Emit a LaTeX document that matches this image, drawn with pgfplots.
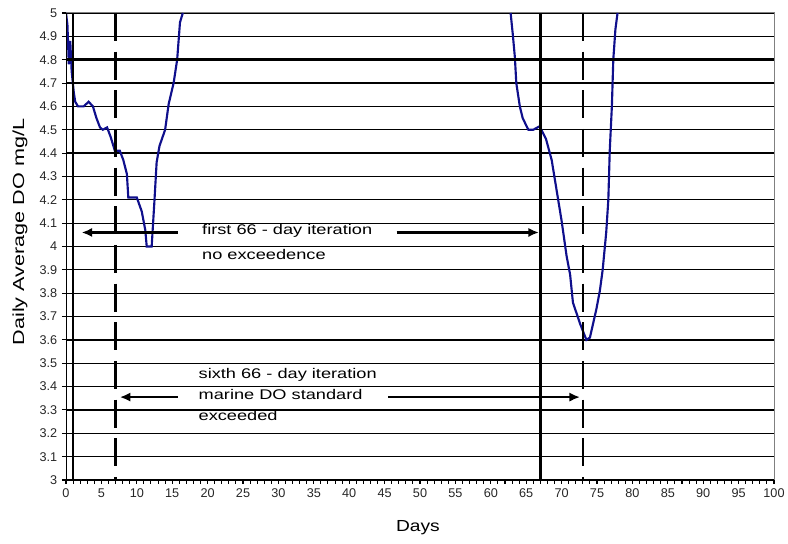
\documentclass[border=0pt]{standalone}
\usepackage{pgfplots}
\pgfplotsset{compat=1.18}
\usepackage{fontspec}
\setmainfont{Liberation Sans}
\newfontfamily\notefont[FakeStretch=1.3]{Liberation Sans}
\newfontfamily\ylabfont[FakeStretch=1.35]{Liberation Sans}
\newfontfamily\xlabfont[FakeStretch=1.2]{Liberation Sans}
\usetikzlibrary{arrows.meta,calc}
\definecolor{doblue}{RGB}{15,15,140}
\begin{document}
\begin{tikzpicture}
\begin{axis}[
  name=ax,
  scale only axis,
  width=531pt, height=350.25pt,
  xmin=0, xmax=100, ymin=3, ymax=5,
  xtick={0,5,...,100},
  minor x tick num=4,
  ytick={3,3.1,3.2,3.3,3.4,3.5,3.6,3.7,3.8,3.9,4,4.1,4.2,4.3,4.4,4.5,4.6,4.7,4.8,4.9,5},
  yticklabels={3,3.1,3.2,3.3,3.4,3.5,3.6,3.7,3.8,3.9,4,4.1,4.2,4.3,4.4,4.5,4.6,4.7,4.8,4.9,5},
  xtick pos=bottom, ytick pos=left,
  tick align=outside,
  major tick length=3pt, minor tick length=3pt,
  tick style={black, line width=0.8pt},
  ymajorgrids=true,
  grid style={black, line width=0.95pt},
  axis line style={draw=gray, line width=0.75pt},
  /pgf/number format/assume math mode=true,
  ticklabel style={font=\fontsize{9.5}{11}\selectfont, text=black!85},
  xlabel={Days},
  ylabel={Daily Average DO mg/L},
  xlabel style={font=\xlabfont\fontsize{12}{14}\selectfont, at={(axis description cs:0.497,-0.103)}, anchor=center},
  ylabel style={font=\ylabfont\fontsize{12}{14}\selectfont, at={(axis description cs:-0.065,0.531)}, anchor=center},
]
% DO curve, first dip
\addplot[doblue, line width=1.6pt] coordinates {
(0,5)(0.2,4.95)(0.4,4.78)(0.6,4.88)(0.8,4.75)(1.1,4.66)(1.3,4.62)(1.7,4.6)
(2.5,4.6)(3.2,4.62)(3.8,4.6)(4.3,4.55)(4.8,4.51)(5.2,4.5)(5.8,4.51)(6.3,4.47)
(6.9,4.41)(7.6,4.41)(8.1,4.37)(8.6,4.31)(8.8,4.21)(10,4.21)(10.7,4.15)(11.2,4.07)
(11.4,4.0)(12.1,4.0)(12.5,4.2)(12.8,4.36)(13.2,4.43)(14.0,4.5)(14.5,4.61)
(15.2,4.7)(15.7,4.8)(16.1,4.96)(16.5,5.0)
};
% DO curve, second dip
\addplot[doblue, line width=1.6pt] coordinates {
(62.8,5.0)(63.1,4.91)(63.4,4.81)(63.6,4.70)(64.1,4.6)(64.5,4.55)(65.3,4.5)
(66.0,4.5)(66.9,4.515)(67.8,4.46)(68.6,4.37)(69.3,4.24)(70.0,4.11)(70.7,3.96)
(71.2,3.88)(71.6,3.76)(72.6,3.67)(73.5,3.6)(74.0,3.61)(74.9,3.73)(75.4,3.81)
(75.8,3.9)(76.3,4.06)(76.6,4.2)(76.8,4.41)(77.1,4.6)(77.3,4.8)(77.6,4.93)(77.9,5.0)
};
% axes
\draw[black, line width=0.9pt] (axis cs:0,5) -- (axis cs:0,3) -- (axis cs:100,3);
% standard
\draw[black, line width=2pt] (axis cs:0,4.8) -- (axis cs:100,4.8);
% iteration windows
\draw[black, line width=2.1pt] (axis cs:1,5) -- (axis cs:1,3);
\draw[black, line width=2.1pt] (axis cs:67,5) -- (axis cs:67,3);
\draw[black, line width=2pt, dash pattern=on 21pt off 8pt] (axis cs:7,5) -- (axis cs:7,3);
\draw[black, line width=2pt, dash pattern=on 21pt off 8pt] (axis cs:73,5) -- (axis cs:73,3);
% arrows
\tikzset{iter/.style={black, line width=2pt, -{Latex[length=8pt,width=7pt]}}}
\draw[iter] (axis cs:15.8,4.06) -- (axis cs:2.2,4.06);
\draw[iter] (axis cs:46.7,4.06) -- (axis cs:66.8,4.06);
\draw[iter] (axis cs:15.8,3.355) -- (axis cs:7.6,3.355);
\draw[iter] (axis cs:45.5,3.355) -- (axis cs:72.6,3.355);
% notes
\begin{scope}[every node/.style={anchor=west, inner sep=0pt, text=black, font=\notefont\fontsize{10.5}{12}\selectfont}]
\node at (axis cs:19.2,4.065) {first 66 - day iteration};
\node at (axis cs:19.2,3.965) {no exceedence};
\node at (axis cs:18.7,3.45) {sixth 66 - day iteration};
\node at (axis cs:18.7,3.365) {marine DO standard};
\node at (axis cs:18.7,3.275) {exceeded};
\end{scope}
\end{axis}
\pgfresetboundingbox
\path[use as bounding box] ($(ax.south west)+(-49.5pt,-48pt)$) rectangle ($(ax.north east)+(10.5pt,9.75pt)$);
\end{tikzpicture}
\end{document}
